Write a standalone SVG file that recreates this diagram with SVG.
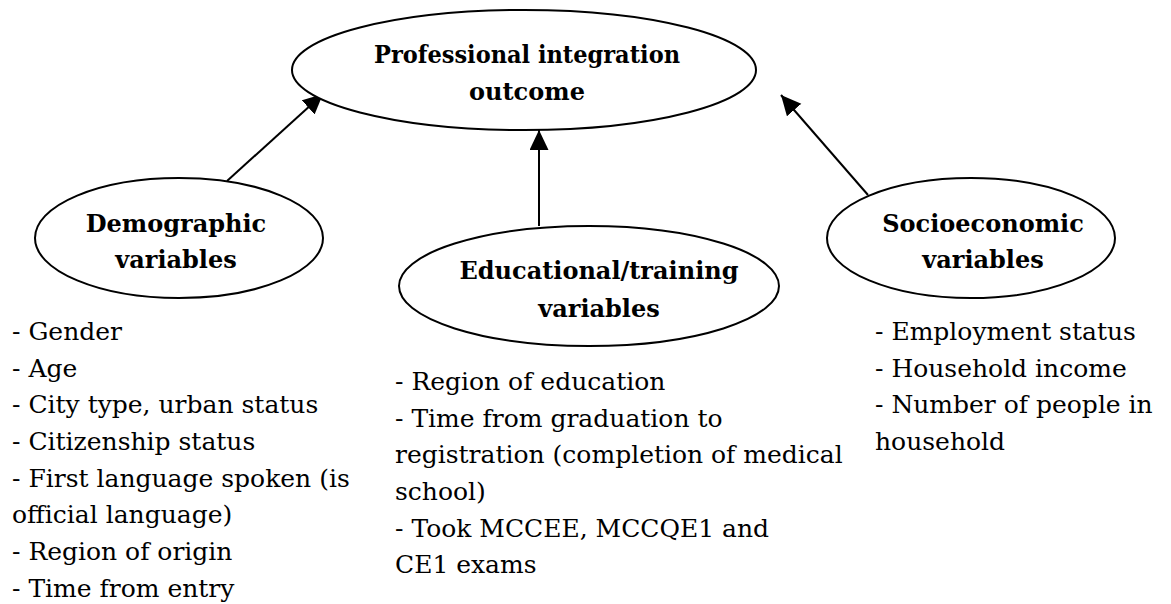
<svg xmlns="http://www.w3.org/2000/svg" width="1171" height="604" viewBox="0 0 1171 604">
  <style>
    .node ellipse { fill: #ffffff; stroke: #000000; stroke-width: 2; }
    .title { font-family: "DejaVu Serif", serif; font-weight: 700; font-size: 24px; fill: #000000; text-anchor: middle; }
    .list { font-family: "DejaVu Serif", serif; font-size: 25px; fill: #000000; }
    .edge { stroke: #000000; stroke-width: 2; fill: none; marker-end: url(#arrow); }
  </style>
  <defs>
    <marker id="arrow" markerUnits="userSpaceOnUse" markerWidth="22" markerHeight="20" refX="20" refY="9.5" orient="auto">
      <path d="M0,0 L20,9.5 L0,19 Z" fill="#000000"/>
    </marker>
  </defs>
  <rect width="1171" height="604" fill="#ffffff"/>

  <!-- connectors: each group of variables points to the outcome -->
  <g id="connectors">
    <line class="edge" x1="227" y1="181" x2="323" y2="94"/>
    <line class="edge" x1="539" y1="226" x2="539" y2="130"/>
    <line class="edge" x1="868" y1="195" x2="781" y2="95"/>
  </g>

  <g id="outcome" class="node">
    <ellipse cx="524" cy="70" rx="232" ry="60"/>
    <text class="title" x="527" y="63" textLength="306" lengthAdjust="spacingAndGlyphs">Professional integration</text>
    <text class="title" x="527" y="100">outcome</text>
  </g>

  <g id="demographic" class="node">
    <ellipse cx="179" cy="238" rx="144" ry="60"/>
    <text class="title" x="176" y="232">Demographic</text>
    <text class="title" x="176" y="268">variables</text>
    <text class="list" x="12">
      <tspan x="12" y="340">- Gender</tspan>
      <tspan x="12" y="377">- Age</tspan>
      <tspan x="12" y="413">- City type, urban status</tspan>
      <tspan x="12" y="450">- Citizenship status</tspan>
      <tspan x="12" y="487">- First language spoken (is</tspan>
      <tspan x="12" y="523">official language)</tspan>
      <tspan x="12" y="560">- Region of origin</tspan>
      <tspan x="12" y="597">- Time from entry</tspan>
    </text>
  </g>

  <g id="educational" class="node">
    <ellipse cx="589" cy="286" rx="190" ry="60"/>
    <text class="title" x="599" y="279">Educational/training</text>
    <text class="title" x="599" y="317">variables</text>
    <text class="list" x="395">
      <tspan x="395" y="390">- Region of education</tspan>
      <tspan x="395" y="427">- Time from graduation to</tspan>
      <tspan x="395" y="463">registration (completion of medical</tspan>
      <tspan x="395" y="500">school)</tspan>
      <tspan x="395" y="537">- Took MCCEE, MCCQE1 and</tspan>
      <tspan x="395" y="573">CE1 exams</tspan>
    </text>
  </g>

  <g id="socioeconomic" class="node">
    <ellipse cx="971" cy="238" rx="144" ry="60"/>
    <text class="title" x="983" y="232">Socioeconomic</text>
    <text class="title" x="983" y="268">variables</text>
    <text class="list" x="875">
      <tspan x="875" y="340">- Employment status</tspan>
      <tspan x="875" y="377">- Household income</tspan>
      <tspan x="875" y="413">- Number of people in</tspan>
      <tspan x="875" y="450">household</tspan>
    </text>
  </g>
</svg>
